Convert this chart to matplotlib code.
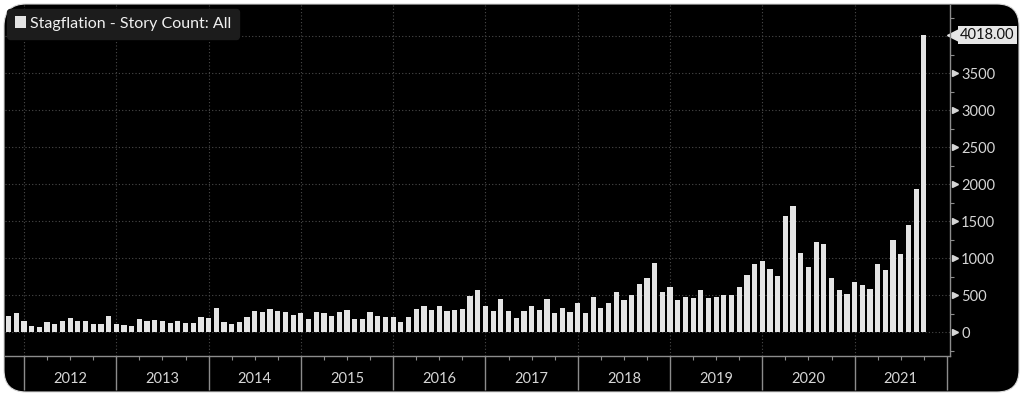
import matplotlib.pyplot as plt
from matplotlib.patches import FancyBboxPatch
import numpy as np

# monthly story count, Nov 2011 .. Oct 2021
counts = [216, 261,
          159, 80, 71, 137, 115, 146, 190, 150, 159, 115, 106, 225,
          106, 93, 80, 181, 146, 168, 146, 128, 146, 128, 128, 203,
          190, 323, 137, 115, 137, 212, 292, 278, 314, 292, 278, 234,
          261, 181, 278, 261, 225, 278, 300, 181, 181, 278, 214, 203,
          212, 137, 203, 314, 358, 300, 358, 292, 300, 314, 490, 566,
          358, 292, 446, 290, 187, 290, 352, 299, 455, 254, 334, 276,
          392, 254, 477, 334, 392, 544, 433, 502, 652, 729, 941, 540,
          618, 440, 482, 464, 571, 464, 482, 507, 507, 616, 776, 923,
          958, 860, 761, 1566, 1710, 1076, 887, 1220, 1188, 738, 567, 513,
          680, 635, 581, 918, 837, 1242, 1062, 1445, 1940, 4018]
years = list(range(2012, 2022))
yticks = [0, 500, 1000, 1500, 2000, 2500, 3000, 3500]
series_name = 'Stagflation - Story Count: All'
last_label = '4018.00'

plt.rcParams['font.family'] = ['Lato', 'DejaVu Sans']

fig = plt.figure(figsize=(10.24, 3.98), dpi=100, facecolor='white')

# rounded black panel behind everything
panel = FancyBboxPatch((0.04, 0.06), 10.15, 3.88,
                       boxstyle='round,pad=0,rounding_size=0.22',
                       transform=fig.dpi_scale_trans,
                       facecolor='black', edgecolor='#d8d8d8', lw=0.8,
                       zorder=-10)
fig.add_artist(panel)

ax = fig.add_axes([5 / 1024, 42 / 398, 945 / 1024, 351 / 398])
ax.patch.set_visible(False)

x = np.arange(len(counts))
ax.bar(x, counts, width=0.68, color='#e4e4e4', label=series_name, zorder=2)

ax.set_xlim(-0.47, 122.4)
ax.set_ylim(-320, 4420)

# dotted grid
grid_kw = dict(color='#4a4a4a', ls=(0, (1, 2)), lw=0.8, zorder=0)
for v in range(0, 4001, 500):
    ax.axhline(v, **grid_kw)
year_starts = [2 + 12 * k for k in range(len(years) + 1)]
for xs in year_starts[:-1]:
    ax.axvline(xs, **grid_kw)

# spines
for s in ['top', 'left']:
    ax.spines[s].set_visible(False)
for s in ['bottom', 'right']:
    ax.spines[s].set_color('#8c8c8c')
    ax.spines[s].set_linewidth(1.0)

# y axis on the right
ax.yaxis.tick_right()
ax.set_yticks(yticks)
ax.set_yticks(np.arange(-250, 4400, 250), minor=True)
ax.tick_params(axis='y', which='major', length=0, pad=8,
               labelsize=10.5, labelcolor='#d6d6d6')
ax.tick_params(axis='y', which='minor', length=3, width=0.8, color='#8c8c8c')
ax.plot([1.0058] * len(yticks), yticks, marker='>', ms=4, ls='none',
        color='#d6d6d6', transform=ax.get_yaxis_transform(), clip_on=False)

# last value tag
ax.plot([1.004], [counts[-1]], marker='<', ms=10, ls='none', color='#e6e6e6',
        transform=ax.get_yaxis_transform(), clip_on=False)
ax.text(1.0105, counts[-1], last_label, transform=ax.get_yaxis_transform(),
        ha='left', va='center', fontsize=10.5, color='#111111',
        bbox=dict(boxstyle='square,pad=0.15', fc='#e6e6e6', ec='none'))

# x axis: year boundaries and quarters
ax.set_xticks(year_starts)
ax.set_xticklabels([])
quarters = [ys + q for ys in year_starts[:-1] for q in (3, 6, 9)]
ax.set_xticks(quarters, minor=True)
ax.tick_params(axis='x', which='major', length=24.5, width=1.0, color='#8c8c8c')
ax.tick_params(axis='x', which='minor', length=3, width=0.8, color='#8c8c8c')
for k, yr in enumerate(years):
    ax.text(year_starts[k] + 6, -0.066, str(yr), transform=ax.get_xaxis_transform(),
            ha='center', va='center', fontsize=10.5, color='#d6d6d6')

leg = ax.legend(loc='upper left', bbox_to_anchor=(0.002, 0.99), fontsize=11.5,
                handlelength=0.7, handleheight=0.7, handletextpad=0.25,
                borderpad=0.5, borderaxespad=0.0, fancybox=True,
                facecolor='#1c1c1c', edgecolor='#1c1c1c', framealpha=1,
                labelcolor='#f0f0f0')
leg.set_zorder(5)

fig.savefig('out.png', dpi=100, facecolor='white')
